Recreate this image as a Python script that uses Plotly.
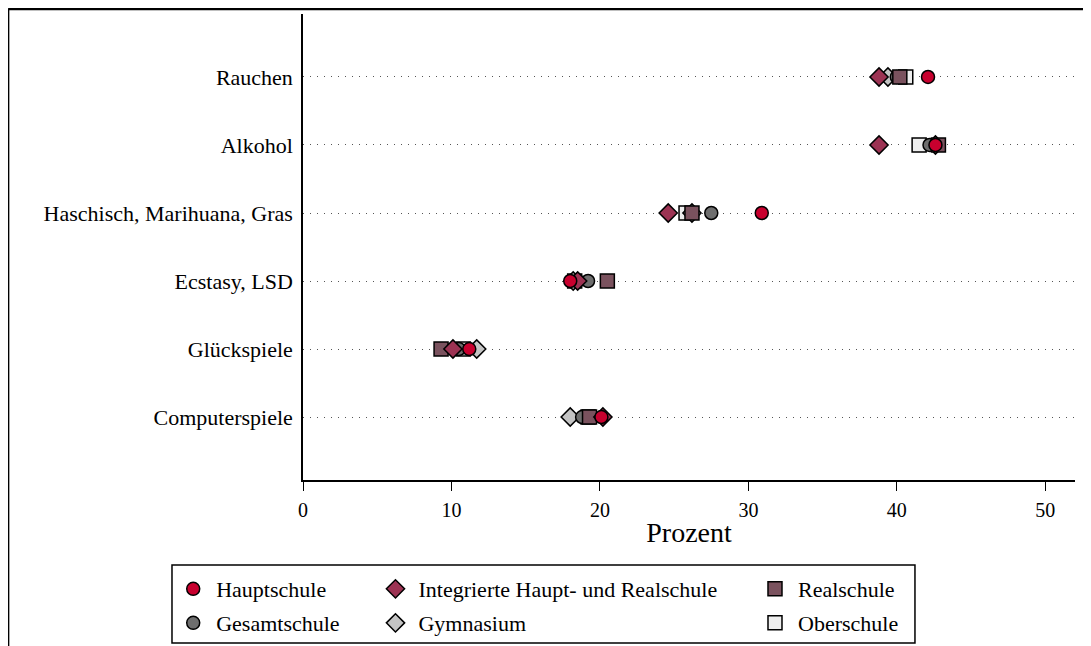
import plotly.graph_objects as go

categories = ["Rauchen", "Alkohol", "Haschisch, Marihuana, Gras", "Ecstasy, LSD", "Glückspiele", "Computerspiele"]

hauptschule = [42.1, 42.6, 30.9, 18.0, 11.2, 20.1]
integrierte = [38.8, 38.8, 24.6, 18.5, 10.1, 20.2]
realschule = [40.2, 42.8, 26.2, 20.5, 9.3, 19.3]
gesamtschule = [40.0, 42.2, 27.5, 19.2, 10.5, 18.8]
gymnasium = [39.4, 42.6, 26.2, 18.2, 11.7, 18.0]
oberschule = [40.6, 41.5, 25.8, 18.3, 10.8, 19.2]

x_ticks = [0, 10, 20, 30, 40, 50]

FONT = "Liberation Serif"

# (name, values, symbol, color, size, legend id, legend x (paper), legend y (paper))
series = [
    ("Oberschule", oberschule, "square", "#eeeeee", 14, "legend6", 0.5816, -0.307),
    ("Gymnasium", gymnasium, "diamond", "#c4c4c4", 14, "legend5", 0.090, -0.307),
    ("Gesamtschule", gesamtschule, "circle", "#6e6e6e", 13, "legend4", -0.172, -0.307),
    ("Realschule", realschule, "square", "#7a525e", 14, "legend3", 0.5816, -0.234),
    ("Integrierte Haupt- und Realschule", integrierte, "diamond", "#9c3353", 14, "legend2", 0.090, -0.234),
    ("Hauptschule", hauptschule, "circle", "#c8002e", 13, "legend", -0.172, -0.234),
]

fig = go.Figure()
layout_legends = {}
for name, vals, sym, col, size, leg, lx, ly in series:
    fig.add_trace(go.Scatter(
        x=vals, y=categories, mode="markers", name=name, legend=leg,
        marker=dict(symbol=sym, color=col, size=size, line=dict(color="black", width=1.5)),
    ))
    layout_legends[leg] = dict(
        x=lx, y=ly, xanchor="left", yanchor="middle", xref="paper", yref="paper",
        bgcolor="rgba(0,0,0,0)", borderwidth=0,
        font=dict(family=FONT, size=22, color="black"),
        itemwidth=36,
    )

fig.update_layout(
    width=1091, height=646,
    margin=dict(l=295, r=24, t=6, b=174, autoexpand=False),
    paper_bgcolor="white", plot_bgcolor="white",
    font=dict(family=FONT, color="black"),
    showlegend=True,
    **layout_legends,
)

fig.update_xaxes(
    range=[0, 52], tickvals=x_ticks, ticks="outside", ticklen=9, tickwidth=1.3,
    tickcolor="black", showline=True, linecolor="black", linewidth=1.5,
    showgrid=False, zeroline=False, ticklabelstandoff=2,
    tickfont=dict(family=FONT, size=20, color="black"),
    title=dict(text="Prozent", font=dict(family=FONT, size=28, color="black"), standoff=3),
)
fig.update_yaxes(
    type="category", categoryorder="array", categoryarray=categories,
    range=[5.926, -0.926], showline=True, linecolor="black", linewidth=1.5,
    ticks="", ticklabelstandoff=4,
    showgrid=True, gridcolor="#555555", griddash="1px,6px", gridwidth=1,
    zeroline=False,
    tickfont=dict(family=FONT, size=22, color="black"),
)

# legend box
fig.add_shape(type="rect", xref="paper", yref="paper",
              x0=-0.1697, x1=0.7927, y0=-0.3498, y1=-0.1824,
              line=dict(color="black", width=1.5), fillcolor="rgba(0,0,0,0)", layer="below")
# outer frame (top and left)
fig.add_shape(type="line", xref="paper", yref="paper",
              x0=-0.382, x1=1.03, y0=1.0107, y1=1.0107, line=dict(color="black", width=2.5))
fig.add_shape(type="line", xref="paper", yref="paper",
              x0=-0.382, x1=-0.382, y0=1.0107, y1=-0.38, line=dict(color="black", width=2.5))

fig.write_html("out.html")
